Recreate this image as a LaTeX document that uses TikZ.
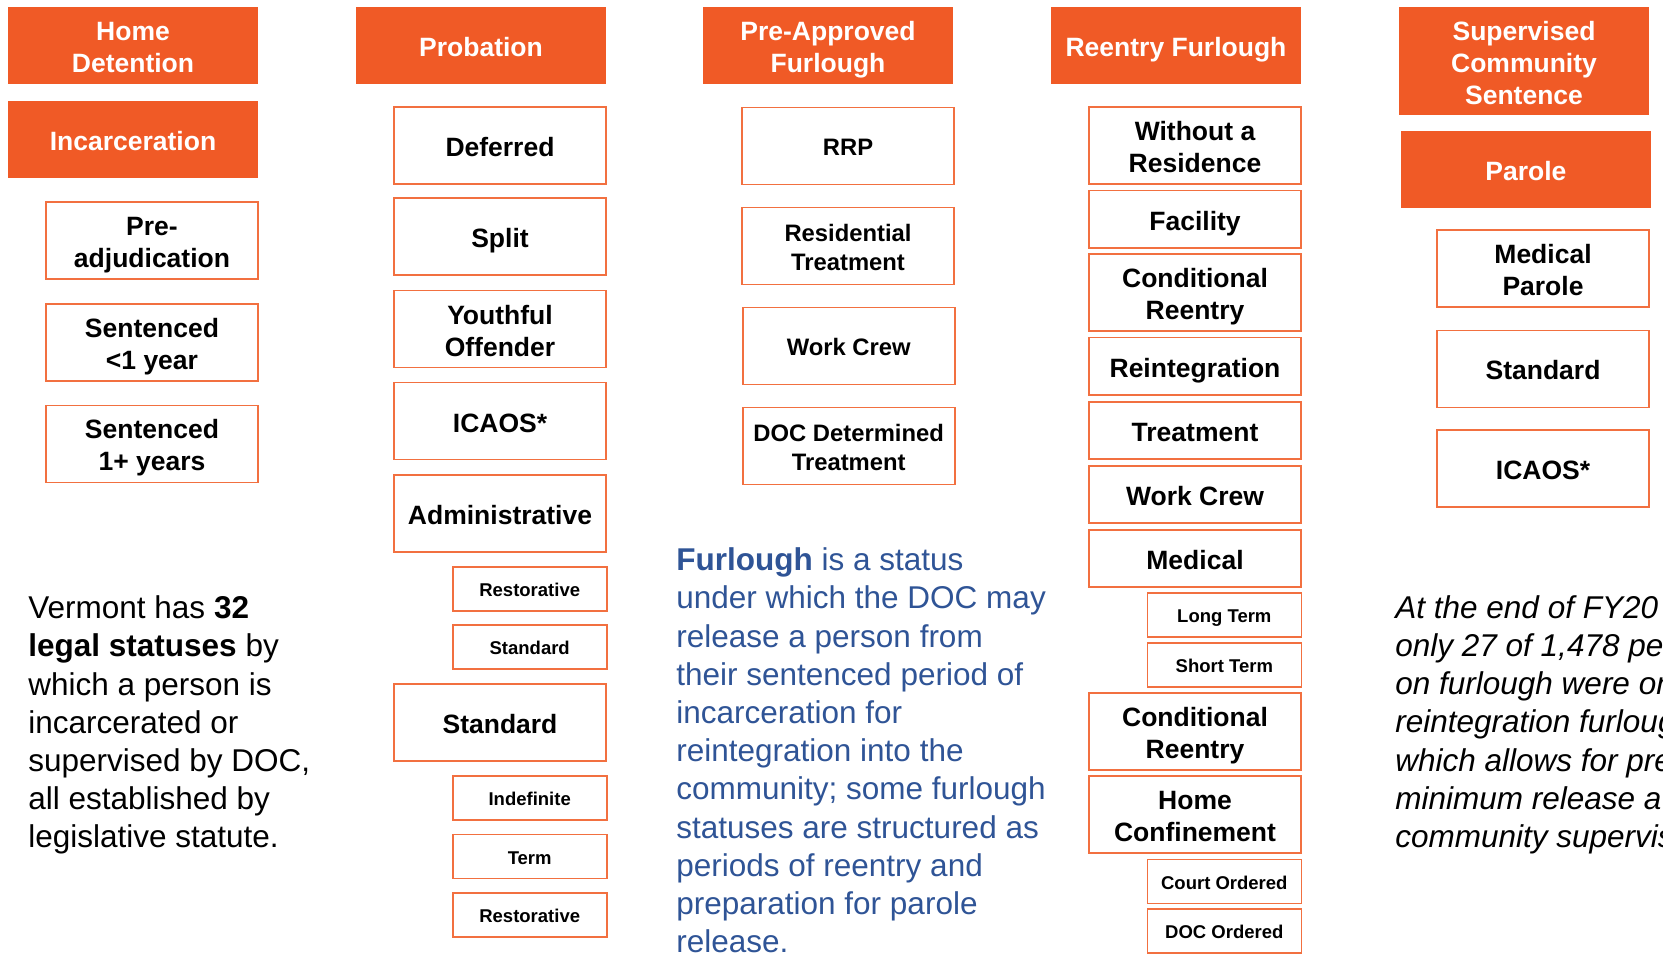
\documentclass[tikz,border=0pt]{standalone}
\usepackage{fontspec}
\setmainfont{Liberation Sans}
\definecolor{vtorange}{RGB}{240,90,38}
\definecolor{vtline}{RGB}{242,112,64}
\definecolor{vtblue}{RGB}{47,84,150}
\newcommand{\vstrut}{\rule[-0.226em]{0pt}{1.292em}}

\begin{document}
\begin{tikzpicture}[x=0.5pt, y=-0.5pt,
		catbox/.style={fill=vtorange, text=white, inner sep=0pt, align=center, minimum width=125pt, minimum height=38.5pt, font=\bfseries\fontsize{13.25}{16}\selectfont, execute at begin node=\vstrut, execute at end node=\vstrut},
		itembox/.style={draw=vtline, line width=0.8pt, fill=white, inner sep=0pt, align=center, minimum width=106pt, minimum height=38.5pt, font=\bfseries\fontsize{13.25}{16}\selectfont, execute at begin node=\vstrut, execute at end node=\vstrut},
		lowbox/.style={itembox, minimum height=28.75pt},
		smallbox/.style={itembox, font=\bfseries\fontsize{11.9}{14.2}\selectfont},
		subbox/.style={itembox, minimum width=77pt, minimum height=22pt, font=\bfseries\fontsize{9.25}{11}\selectfont},
		note/.style={anchor=north west, inner sep=0pt, align=left, font=\fontsize{15.75}{19.1}\selectfont}]
	\useasboundingbox (0,0) rectangle (1663,955);
	\clip (0,0) rectangle (1663,955);

	% incarceration
	\node[catbox] (hd) at (133, 45.5) {\vstrut Home\\Detention};
	\node[catbox] (inc) at (133, 139.5) {Incarceration};
	\node[itembox] (pre) at (152, 240.7) {\vstrut Pre-\\adjudication};
	\node[itembox] (sless) at (152, 342.2) {\vstrut Sentenced\\<1 year};
	\node[itembox] (smore) at (152, 443.8) {\vstrut Sentenced\\1+ years};

	% probation
	\node[catbox] (prob) at (481, 45.5) {Probation};
	\node[itembox] (def) at (500, 145.5) {Deferred};
	\node[itembox] (split) at (500, 236.5) {Split};
	\node[itembox] (yo) at (500, 329) {\vstrut Youthful\\Offender};
	\node[itembox] (icp) at (500, 421) {ICAOS*};
	\node[itembox] (adm) at (500, 513.3) {Administrative};
	\node[subbox] (admr) at (529.7, 588.7) {Restorative};
	\node[subbox] (adms) at (529.7, 647.2) {Standard};
	\node[itembox] (std) at (500, 722.7) {Standard};
	\node[subbox] (stdi) at (529.7, 797.8) {Indefinite};
	\node[subbox] (stdt) at (529.7, 856.3) {Term};
	\node[subbox] (stdr) at (529.7, 915.2) {Restorative};

	% pre-approved furlough
	\node[catbox] (paf) at (828, 45.5) {\vstrut Pre-Approved\\Furlough};
	\node[smallbox] (rrp) at (848, 145.8) {RRP};
	\node[smallbox] (res) at (848, 245.8) {\vstrut Residential\\Treatment};
	\node[smallbox] (wcp) at (848.7, 345.8) {Work Crew};
	\node[smallbox] (ddt) at (848.7, 445.8) {\vstrut DOC Determined\\Treatment};

	% reentry furlough
	\node[catbox] (rf) at (1176, 45.5) {Reentry Furlough};
	\node[itembox] (wres) at (1195, 145.6) {\vstrut Without a\\Residence};
	\node[lowbox] (fac) at (1195, 219.2) {Facility};
	\node[itembox] (cr) at (1195, 292.7) {\vstrut Conditional\\Reentry};
	\node[lowbox] (reint) at (1195, 366.2) {Reintegration};
	\node[lowbox] (treat) at (1195, 430.5) {Treatment};
	\node[lowbox] (wcr) at (1195, 494.5) {Work Crew};
	\node[lowbox] (med) at (1195, 558.5) {Medical};
	\node[subbox] (medl) at (1224.3, 615) {Long Term};
	\node[subbox] (meds) at (1224.3, 664.9) {Short Term};
	\node[itembox] (crb) at (1195, 731.4) {\vstrut Conditional\\Reentry};
	\node[itembox] (hc) at (1195, 814.7) {\vstrut Home\\Confinement};
	\node[subbox] (hcc) at (1224.3, 881.4) {Court Ordered};
	\node[subbox] (hcd) at (1224.3, 930.8) {DOC Ordered};

	% supervised community sentence and parole
	\node[catbox, minimum height=53.85pt] (scs) at (1524, 60.9) {\vstrut Supervised\\Community\\Sentence};
	\node[catbox] (par) at (1525.9, 169.4) {Parole};
	\node[itembox] (mp) at (1543, 268.5) {\vstrut Medical\\Parole};
	\node[itembox] (pstd) at (1543, 368.8) {Standard};
	\node[itembox] (icpa) at (1543, 468.5) {ICAOS*};

	% notes
	\node[note] (vt) at (28, 595.5) {Vermont has \textbf{32}\\\textbf{legal statuses} by\\which a person is\\incarcerated or\\supervised by DOC,\\all established by\\legislative statute.};
	\node[note, text=vtblue] (furl) at (676, 547.5) {\textbf{Furlough} is a status\\under which the DOC may\\release a person from\\their sentenced period of\\incarceration for\\reintegration into the\\community; some furlough\\statuses are structured as\\periods of reentry and\\preparation for parole\\release.};
	\node[note, font=\itshape\fontsize{15.75}{19.1}\selectfont] (fy) at (1395, 595) {At the end of FY20\\only 27 of 1,478 pe\\on furlough were on\\reintegration furloug\\which allows for pre\\minimum release a\\community supervis};
\end{tikzpicture}
\end{document}
